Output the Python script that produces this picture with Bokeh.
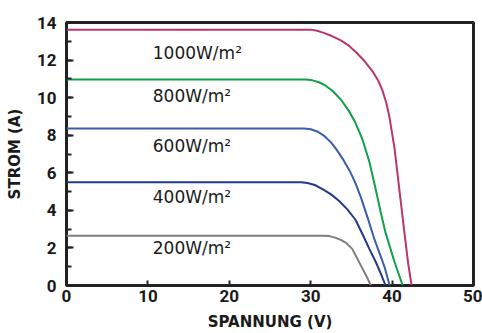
from bokeh.plotting import figure
from bokeh.models import Range1d, SingleIntervalTicker, FixedTicker, Label
from bokeh.embed import file_html
from bokeh.resources import INLINE

# Data
v_1000 = [0, 30.0, 30.8, 31.6, 32.6, 33.7, 34.6, 35.6, 36.6, 37.6, 38.3, 38.8, 39.3, 39.7, 40.3, 41.0, 41.6, 42.0, 42.4]
i_1000 = [13.62, 13.62, 13.56, 13.45, 13.28, 13.05, 12.8, 12.4, 11.95, 11.4, 10.9, 10.4, 9.7, 8.9, 7.3, 4.7, 2.5, 1.1, 0]

v_800 = [0, 29.4, 30.2, 31.0, 31.8, 32.7, 33.7, 34.6, 35.4, 36.3, 37.2, 38.0, 38.6, 39.2, 40.3, 41.3]
i_800 = [10.96, 10.96, 10.92, 10.82, 10.65, 10.35, 9.9, 9.35, 8.75, 7.85, 6.6, 5.1, 3.9, 2.8, 1.25, 0]

v_600 = [0, 29.2, 30.0, 30.8, 31.7, 32.5, 33.2, 34.0, 34.8, 35.5, 36.2, 37.0, 37.8, 38.6, 39.1, 39.7]
i_600 = [8.36, 8.36, 8.32, 8.2, 7.95, 7.62, 7.22, 6.7, 6.1, 5.45, 4.65, 3.6, 2.5, 1.55, 0.95, 0]

v_400 = [0, 28.8, 29.6, 30.5, 31.5, 32.5, 33.5, 34.5, 35.5, 36.4, 37.2, 38.0, 38.6, 39.2]
i_400 = [5.5, 5.5, 5.46, 5.35, 5.12, 4.85, 4.5, 4.05, 3.5, 2.7, 1.95, 1.25, 0.65, 0]

v_200 = [0, 31.5, 32.3, 33.0, 33.7, 34.4, 35.1, 35.7, 36.3, 36.9, 37.4]
i_200 = [2.65, 2.65, 2.63, 2.55, 2.43, 2.25, 1.95, 1.45, 0.95, 0.45, 0]

labels = ["1000W/m²", "800W/m²", "600W/m²", "400W/m²", "200W/m²"]
label_x = [10.6, 10.6, 10.6, 10.6, 10.6]
label_y = [12.37, 10.08, 7.44, 4.71, 1.98]

x_ticks = [0, 10, 20, 30, 40, 50]

TICK_FONT = "Roboto"
TEXT_FONT = "DejaVu Sans"

p = figure(width=482, height=333, output_backend="svg", toolbar_location=None,
           x_range=Range1d(0, 50), y_range=Range1d(0, 14),
           min_border_left=66, min_border_right=9, min_border_top=22, min_border_bottom=45)

p.background_fill_color = "white"
p.border_fill_color = "white"
p.outline_line_color = "#222222"
p.outline_line_width = 3
p.grid.visible = False

series = [
    (v_1000, i_1000, "#b8366b"),
    (v_800, i_800, "#10a04a"),
    (v_600, i_600, "#3d5cab"),
    (v_400, i_400, "#233a8c"),
    (v_200, i_200, "#7f7f7f"),
]
for vx, iy, col in series:
    p.line(vx, iy, line_color=col, line_width=2)

for txt, lx, ly in zip(labels, label_x, label_y):
    p.add_layout(Label(x=lx, y=ly, text=txt, text_font=TEXT_FONT, text_font_size="17px",
                       text_color="#1a1a1a", text_baseline="middle", text_align="left"))

p.xaxis.ticker = FixedTicker(ticks=x_ticks)
p.yaxis.ticker = SingleIntervalTicker(interval=2, num_minor_ticks=2)

for ax in (p.xaxis[0], p.yaxis[0]):
    ax.axis_line_color = None
    ax.major_tick_line_color = "#222222"
    ax.major_tick_line_width = 2
    ax.minor_tick_line_color = "#222222"
    ax.minor_tick_line_width = 2
    ax.major_tick_out = 0
    ax.minor_tick_out = 0
    ax.major_label_text_font = TICK_FONT
    ax.major_label_text_font_size = "17px"
    ax.major_label_text_font_style = "bold"
    ax.major_label_text_color = "#1a1a1a"
    ax.axis_label_text_font = TEXT_FONT
    ax.axis_label_text_font_size = "15px"
    ax.axis_label_text_font_style = "bold"
    ax.axis_label_text_color = "#1a1a1a"

p.xaxis.major_tick_in = 5
p.xaxis.minor_tick_in = 0
p.yaxis.major_tick_in = 7
p.yaxis.minor_tick_in = 5
p.xaxis.major_label_standoff = 4
p.yaxis.major_label_standoff = 10
p.xaxis.axis_label = "SPANNUNG (V)"
p.yaxis.axis_label = "STROM (A)"
p.xaxis.axis_label_standoff = 8
p.yaxis.axis_label_standoff = 10

open("out.html", "w").write(file_html(p, INLINE))
